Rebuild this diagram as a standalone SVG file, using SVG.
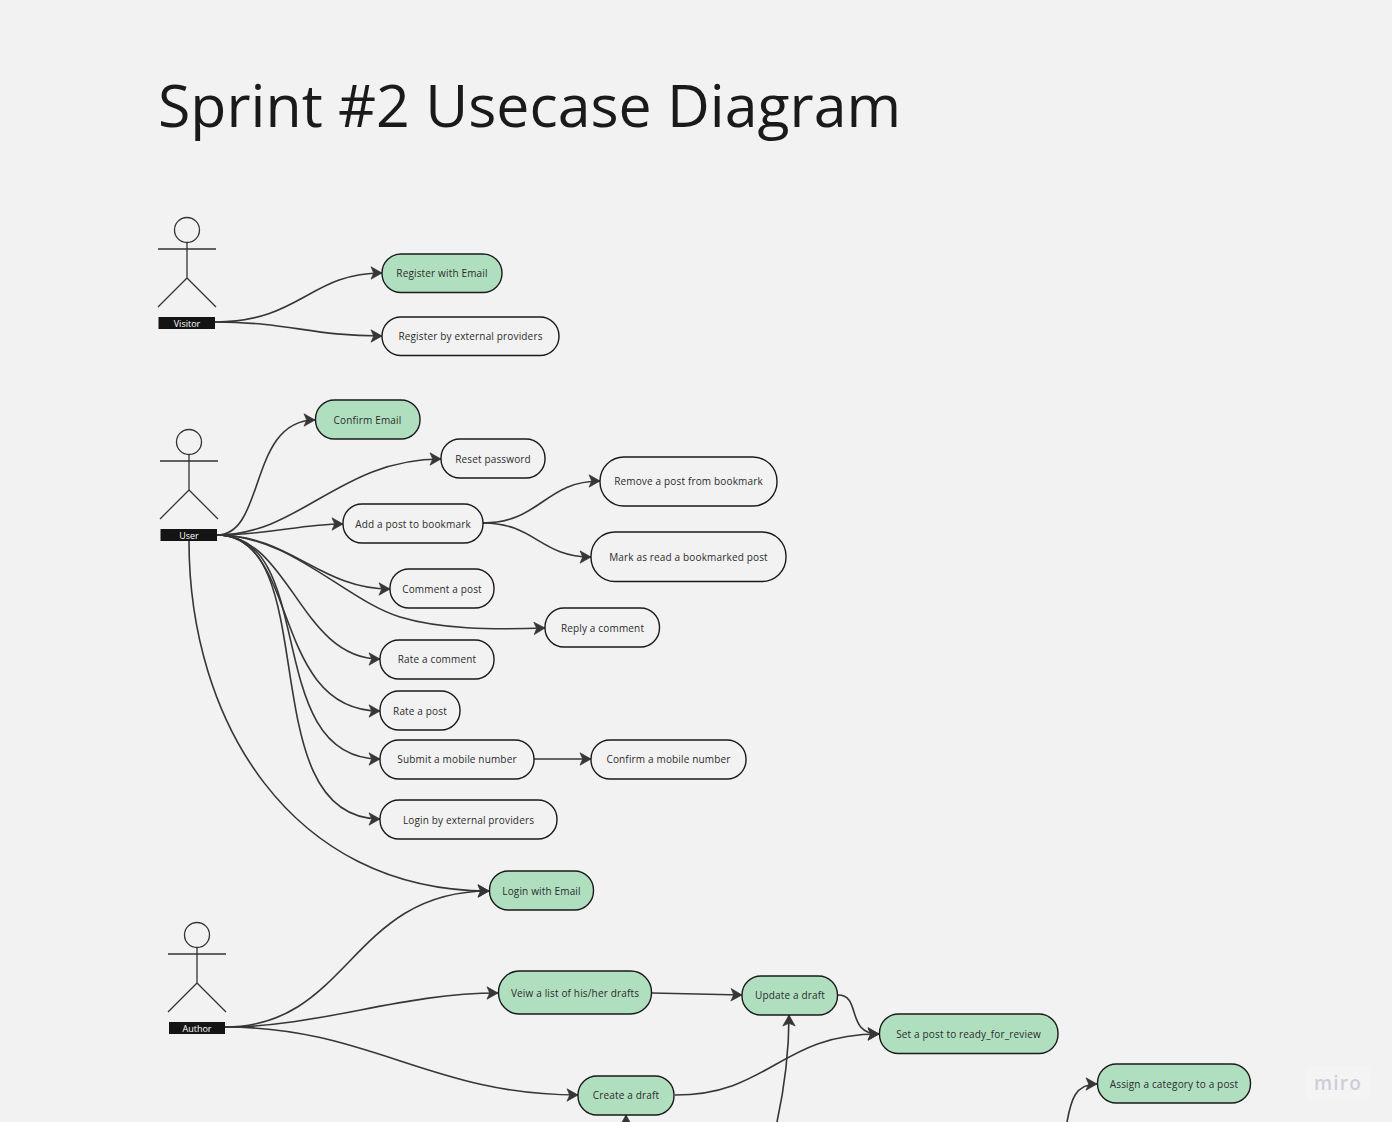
<svg xmlns="http://www.w3.org/2000/svg" width="1392" height="1122" viewBox="0 0 1392 1122">
<style>
text{font-family:"Open Sans","Noto Sans",sans-serif}
.title{font-size:59px;fill:#1a1a1a}
.n rect{stroke:#1a1a1a;stroke-width:1.4}
.n text{font-size:10px;letter-spacing:.16px;fill:#2b2b2b;text-anchor:middle}
.g rect{fill:#b0dfc0}
.w rect{fill:#f2f2f2}
.actor circle,.actor path{fill:none;stroke:#333;stroke-width:1.3}
.actor rect{fill:#141414}
.actor text{font-size:9px;fill:#fff;text-anchor:middle}
.c path{fill:none;stroke:#363636;stroke-width:1.6;marker-end:url(#a)}
</style>
<defs>
<marker id="a" markerUnits="userSpaceOnUse" markerWidth="14" markerHeight="14" refX="10.500" refY="6.500" orient="auto" overflow="visible">
<path d="M-0.500,0.300 L10.500,6.500 L-0.500,12.700 L2.200,6.500 Z" fill="#363636" stroke="#363636" stroke-width=".7" stroke-linejoin="round"/>
</marker>
</defs>
<rect width="1392" height="1122" fill="#f2f2f2"/>
<text class="title" x="158" y="126.500">Sprint #2 Usecase Diagram</text>

<g class="c" id="connectors">
<path d="M215,322 C300,322 310,273 382,273"/>
<path d="M215,322 C290,322 310,336 382,336"/>
<path d="M217,535 C266,535 248,420 315,420"/>
<path d="M217,535 C300,535 340,459 441,459"/>
<path d="M217,535 C270,535 300,524 343,524"/>
<path d="M217,535 C290,535 320,589 390,589"/>
<path d="M217,535 C290,535 345,600 400,617 C440,629 490,630 545,628"/>
<path d="M217,535 C290,535 300,659 380,659"/>
<path d="M217,535 C300,535 270,711 380,711"/>
<path d="M217,535 C320,535 260,759 380,759"/>
<path d="M217,535 C325,535 250,819 380,819"/>
<path d="M189,541 C189,720 290,891 489,891"/>
<path d="M483,523 C540,523 545,481 600,481"/>
<path d="M483,523 C535,523 540,557 591,557"/>
<path d="M534,759 L591,759"/>
<path d="M225,1027 C350,1027 350,891 489,891"/>
<path d="M225,1027 C320,1027 400,993 498,993"/>
<path d="M225,1027 C370,1027 430,1095 578,1095"/>
<path d="M652,993 L742,995"/>
<path d="M838,995 C862,995 845,1034 879,1034"/>
<path d="M675,1095 C770,1095 780,1034 879,1034"/>
<path d="M777,1122 C785,1085 789,1050 789,1015"/>
<path d="M626,1130 L626,1115"/>
<path d="M1067,1122 C1071,1100 1075,1084 1097,1084"/>
</g>

<g class="actor" id="actor-visitor">
<circle cx="187" cy="230" r="12.500"/>
<path d="M187,243 V278 M158,249 H216 M187,278 L158,307 M187,278 L216,307"/>
<rect x="158.500" y="317" width="56.500" height="12"/>
<text x="187" y="327">Visitor</text>
</g>
<g class="actor" id="actor-user">
<circle cx="189" cy="442" r="12.500"/>
<path d="M189,455 V490 M160,461 H218 M189,490 L160,519 M189,490 L218,519"/>
<rect x="160.500" y="529" width="56.500" height="12"/>
<text x="189" y="539">User</text>
</g>
<g class="actor" id="actor-author">
<circle cx="197" cy="935" r="12.500"/>
<path d="M197,948 V983 M168,954 H226 M197,983 L168,1012 M197,983 L226,1012"/>
<rect x="169" y="1022" width="56" height="12"/>
<text x="197" y="1032">Author</text>
</g>

<g class="n g" id="n1"><rect x="382" y="254" width="120" height="38.500" rx="19"/><text x="442" y="277">Register with Email</text></g>
<g class="n w" id="n2"><rect x="382" y="317" width="177" height="38.500" rx="19"/><text x="470.500" y="340">Register by external providers</text></g>
<g class="n g" id="n3"><rect x="315.500" y="400" width="104.500" height="39" rx="19"/><text x="367.500" y="424">Confirm Email</text></g>
<g class="n w" id="n4"><rect x="441" y="439" width="104" height="39" rx="19"/><text x="493" y="463">Reset password</text></g>
<g class="n w" id="n5"><rect x="343" y="504" width="140" height="39" rx="19"/><text x="413" y="528">Add a post to bookmark</text></g>
<g class="n w" id="n6"><rect x="600" y="457" width="177" height="49" rx="24"/><text x="688.500" y="485">Remove a post from bookmark</text></g>
<g class="n w" id="n7"><rect x="591" y="532" width="195" height="49.500" rx="24"/><text x="688.500" y="561">Mark as read a bookmarked post</text></g>
<g class="n w" id="n8"><rect x="390" y="569" width="104" height="39" rx="19"/><text x="442" y="593">Comment a post</text></g>
<g class="n w" id="n9"><rect x="545" y="608" width="114.500" height="39" rx="19"/><text x="602.500" y="632">Reply a comment</text></g>
<g class="n w" id="n10"><rect x="380" y="640" width="114" height="39" rx="19"/><text x="437" y="663">Rate a comment</text></g>
<g class="n w" id="n11"><rect x="380" y="691" width="80" height="39" rx="19"/><text x="420" y="715">Rate a post</text></g>
<g class="n w" id="n12"><rect x="380" y="740" width="154" height="39" rx="19"/><text x="457" y="763">Submit a mobile number</text></g>
<g class="n w" id="n13"><rect x="591" y="740" width="155" height="39" rx="19"/><text x="668.500" y="763">Confirm a mobile number</text></g>
<g class="n w" id="n14"><rect x="380" y="800" width="177" height="39" rx="19"/><text x="468.500" y="824">Login by external providers</text></g>
<g class="n g" id="n15"><rect x="489.500" y="871" width="104" height="39" rx="19"/><text x="541.500" y="895">Login with Email</text></g>
<g class="n g" id="n16"><rect x="498.500" y="971" width="153" height="43" rx="21"/><text x="575" y="997">Veiw a list of his/her drafts</text></g>
<g class="n g" id="n17"><rect x="742" y="976" width="95.500" height="39" rx="19"/><text x="790" y="999">Update a draft</text></g>
<g class="n g" id="n18"><rect x="879.500" y="1014" width="178.500" height="39.500" rx="19"/><text x="968.500" y="1038">Set a post to ready_for_review</text></g>
<g class="n g" id="n19"><rect x="578" y="1076" width="96" height="39" rx="19"/><text x="626" y="1099">Create a draft</text></g>
<g class="n g" id="n20"><rect x="1097.500" y="1064" width="153" height="39" rx="19"/><text x="1174" y="1088">Assign a category to a post</text></g>

<g id="watermark">
<rect x="1306" y="1066" width="64" height="34" rx="6" fill="#f4f4f4"/>
<text x="1338" y="1090" font-size="19" font-weight="600" letter-spacing="1.200" fill="#cfcdd9" text-anchor="middle">miro</text>
</g>
</svg>
